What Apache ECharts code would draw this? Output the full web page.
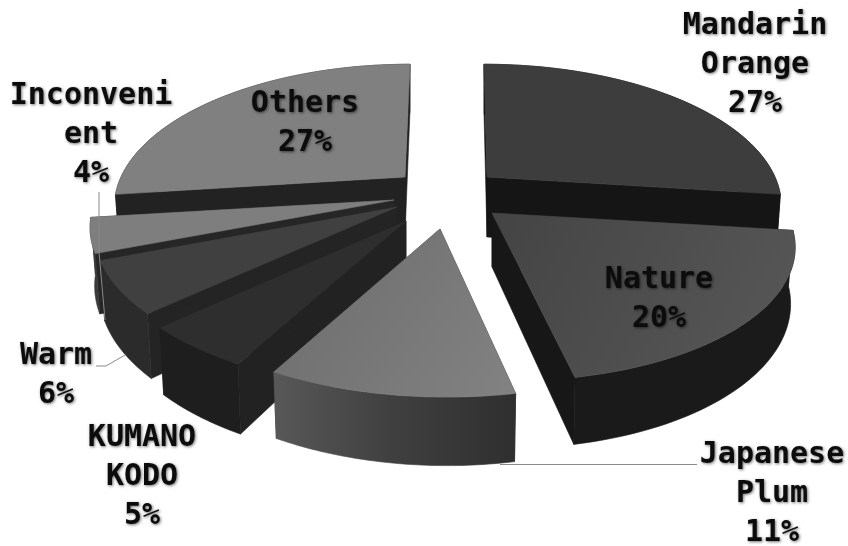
<!DOCTYPE html>
<html>
<head>
<meta charset="utf-8">
<style>html,body{margin:0;padding:0;background:#fff}#chart{width:848px;height:546px}</style>
<script src="https://cdn.jsdelivr.net/npm/echarts@6/dist/echarts.min.js"></script>
</head>
<body>
<div id="chart"></div>
<script>
// Shares in percent, clockwise from twelve o'clock.
const categories = ['Mandarin\nOrange', 'Nature', 'Japanese\nPlum', 'KUMANO\nKODO', 'Warm', 'Inconveni\nent', 'Others'];
const shares = [27, 20, 11, 5, 6, 4, 27];

// Painter's order: slices further back go first.
const paintOrder = [6, 0, 5, 4, 3, 1, 2];

// Perspective of the tilted pie.
const VIEW = { ry: 135, tilt: 0.197, taper: 0.985, arcSteps: 48 };

// Exploded position of each slice's apex, plus small per-slice adjustments.
const sliceGeometry = [
  { cx: 487, cy: 177, rx: 288, skew: 3, depth: 60 },
  { cx: 492, cy: 213, rx: 294, skew: 15, depth: 54 },
  { cx: 440, cy: 229, rx: 296, skew: 7, depth: 55 },
  { cx: 406, cy: 221, rx: 296, skew: 5, depth: 58 },
  { cx: 397, cy: 207, rx: 296, skew: 0, depth: 56 },
  { cx: 394, cy: 200, rx: 298, skew: 0, depth: 56 },
  { cx: 405, cy: 177, rx: 284, skew: -5, depth: 58 }
];

const topFills = [
  '#3d3d3d',
  ['#444444', '#585858'],
  ['#6c6c6c', '#828282'],
  '#2e2e2e',
  '#404040',
  '#7e7e7e',
  '#808080'
];
const wallFills = [
  '#151515',
  '#1a1a1a',
  ['#585858', '#3f3f3f', '#2f2f2f'],
  '#1e1e1e',
  '#2b2b2b',
  '#3a3a3a',
  '#222222'
];
const cutFills = ['#151515', '#171717', '#333333', '#222222', '#242424', '#262626', '#222222'];

// Label block centres.
const labelAnchors = [
  [755, 65], [659, 300], [772, 494], [142, 477], [56, 376], [91, 135], [305, 124]
];
const leaderLines = [
  [[500, 464.5], [697, 464.5]],
  [[125, 355], [106, 366], [96, 366]],
  [[99, 192], [99, 252], [105, 320]]
];

function gradient(stops, x2, y2) {
  if (typeof stops === 'string') return stops;
  return new echarts.graphic.LinearGradient(0, 0, x2, y2, stops.map((color, i) => ({
    offset: i / (stops.length - 1), color
  })));
}

function project(geo, theta, lower) {
  const u = Math.sin(theta);
  const w = -Math.cos(theta);
  const d = 1 / (1 - VIEW.tilt * w);
  const dx = geo.rx * u * d + geo.skew * w;
  const y = geo.cy + VIEW.ry * w * d;
  return lower
    ? [geo.cx + dx * VIEW.taper, y + geo.depth * d]
    : [geo.cx + dx, y];
}

// A hairline in the fill colour closes the seams between adjoining faces.
function polygon(points, fill) {
  return {
    type: 'polygon',
    shape: { points },
    style: { fill, stroke: fill, lineWidth: 0.6, lineJoin: 'round' }
  };
}

const total = shares.reduce((a, b) => a + b, 0);

function sliceAngles(index) {
  const before = shares.slice(0, index).reduce((a, b) => a + b, 0);
  const start = before / total * Math.PI * 2;
  return [start, start + shares[index] / total * Math.PI * 2];
}

function renderSlice(params, api) {
  const index = api.value(0);
  const geo = sliceGeometry[index];
  const [a0, a1] = sliceAngles(index);
  const topArc = [];
  const lowArc = [];
  for (let i = 0; i <= VIEW.arcSteps; i++) {
    const t = a0 + (a1 - a0) * i / VIEW.arcSteps;
    topArc.push(project(geo, t, false));
    lowArc.push(project(geo, t, true));
  }
  const apex = [geo.cx, geo.cy];
  const apexLow = [geo.cx, geo.cy + geo.depth];
  const last = VIEW.arcSteps;
  return {
    type: 'group',
    children: [
      polygon([apex, apexLow, lowArc[0], topArc[0]], cutFills[index]),
      polygon([apex, apexLow, lowArc[last], topArc[last]], cutFills[index]),
      polygon(topArc.concat(lowArc.slice().reverse()), gradient(wallFills[index], 1, 0)),
      polygon([apex].concat(topArc), gradient(topFills[index], 1, 1))
    ]
  };
}

function renderLabel(params, api) {
  const index = api.value(0);
  const [x, y] = labelAnchors[index];
  return {
    type: 'text',
    x, y,
    style: {
      text: categories[index] + '\n' + api.value(1) + '%',
      font: 'bold 30px "DejaVu Sans Mono", monospace',
      lineHeight: 39,
      align: 'center',
      verticalAlign: 'middle',
      fill: '#0c0c0c',
      textShadowColor: 'rgba(0,0,0,0.55)',
      textShadowBlur: 3,
      textShadowOffsetX: 1,
      textShadowOffsetY: 1
    }
  };
}

function renderLeader(params, api) {
  return {
    type: 'polyline',
    shape: { points: leaderLines[api.value(0)] },
    style: { stroke: '#8a8a8a', lineWidth: 1, fill: 'none' }
  };
}

const chart = echarts.init(document.getElementById('chart'), null, { renderer: 'canvas' });
chart.setOption({
  animation: false,
  backgroundColor: '#ffffff',
  series: [
    {
      type: 'custom',
      coordinateSystem: 'none',
      renderItem: renderSlice,
      data: paintOrder.map(i => [i, shares[i]]),
      silent: true
    },
    {
      type: 'custom',
      coordinateSystem: 'none',
      renderItem: renderLeader,
      data: leaderLines.map((_, i) => [i]),
      silent: true
    },
    {
      type: 'custom',
      coordinateSystem: 'none',
      renderItem: renderLabel,
      data: shares.map((v, i) => [i, v]),
      silent: true
    }
  ]
});
</script>
</body>
</html>
